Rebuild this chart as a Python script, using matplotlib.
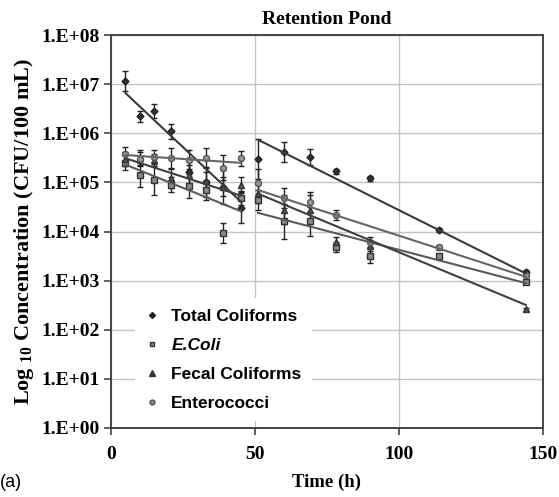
import numpy as np
import matplotlib
matplotlib.use("Agg")
import matplotlib.pyplot as plt
from matplotlib.lines import Line2D

plt.rcParams["mathtext.fontset"] = "custom"
plt.rcParams["mathtext.rm"] = "Liberation Serif:bold"
plt.rcParams["mathtext.bf"] = "Liberation Serif:bold"

# ---- data ----
t1 = [5, 10, 15, 21, 27, 33, 39, 45]
t2 = [51, 60, 69, 78, 90, 114, 144]

tc1 = [1.15e7, 2.2e6, 2.8e6, 1.1e6, 1.6e5, 1.0e5, 8.0e4, 3.0e4]
tc2 = [3.0e5, 4.2e5, 3.3e5, 1.7e5, 1.2e5, 1.07e4, 1.5e3]
tc_err1 = [0.2, 0.12, 0.14, 0.15, 0.25, 0.3, 0.35, 0.3]
tc_err2 = [0.4, 0.2, 0.17, 0.05, 0.06, 0.04, 0.05]

ec1 = [2.5e5, 1.4e5, 1.1e5, 8.9e4, 8.5e4, 7.0e4, 9.3e3, 4.8e4]
ec2 = [4.4e4, 1.6e4, 1.6e4, 4.9e3, 3.2e3, 3.1e3, 9.5e2]
ec_err1 = [0.15, 0.25, 0.3, 0.15, 0.25, 0.2, 0.2, 0.15]
ec_err2 = [0.2, 0.35, 0.3, 0.1, 0.15, 0.05, 0.05]

fc1 = [3.0e5, 3.2e5, 2.9e5, 1.2e5, 1.4e5, 1.05e5, 8.2e4, 8.9e4]
fc2 = [6.0e4, 2.8e4, 2.8e4, 6.2e3, 5.0e3, np.nan, 2.6e2]
fc_err1 = [0.15, 0.15, 0.12, 0.2, 0.2, 0.2, 0.2, 0.15]
fc_err2 = [0.2, 0.3, 0.3, 0.1, 0.1, 0.0, 0.03]

en1 = [3.8e5, 3.0e5, 3.3e5, 3.1e5, 2.9e5, 3.2e5, 2.0e5, 3.1e5]
en2 = [9.6e4, 4.8e4, 4.0e4, 2.2e4, 6.0e3, 4.8e3, 1.3e3]
en_err1 = [0.15, 0.15, 0.15, 0.2, 0.2, 0.2, 0.25, 0.15]
en_err2 = [0.3, 0.2, 0.2, 0.1, 0.1, 0.05, 0.04]

# fitted (regression) line end values for each phase
fit_t1 = [5, 45]
fit_t2 = [51, 144]
tc_fit1 = [6.6e6, 4.1e4]
tc_fit2 = [7.4e5, 1.4e3]
ec_fit1 = [2.3e5, 2.6e4]
ec_fit2 = [2.4e4, 8.9e2]
fc_fit1 = [3.1e5, 5.4e4]
fc_fit2 = [5.9e4, 3.2e2]
en_fit1 = [3.6e5, 2.5e5]
en_fit2 = [7.0e4, 1.2e3]

labels = ["Total Coliforms", "E.Coli", "Fecal Coliforms", "Enterococci"]
yticks = [1e0, 1e1, 1e2, 1e3, 1e4, 1e5, 1e6, 1e7, 1e8]
ytick_labels = ["1.E+00", "1.E+01", "1.E+02", "1.E+03", "1.E+04",
                "1.E+05", "1.E+06", "1.E+07", "1.E+08"]
xticks = [0, 50, 100, 150]

# ---- styling ----
serif = ["Liberation Serif", "DejaVu Serif"]
sans = ["Liberation Sans", "DejaVu Sans"]

fig = plt.figure(figsize=(5.59, 4.97), dpi=100)
ax = fig.add_axes([111/559, 1-428/497, (543-111)/559, (428-35)/497])

ax.set_yscale("log")
ax.set_xlim(0, 150)
ax.set_ylim(1e0, 1e8)
ax.grid(True, which="major", color="#c4c4c4", lw=1.0)
ax.set_axisbelow(True)
ax.minorticks_off()

series = [
    (tc1, tc2, tc_err1, tc_err2, tc_fit1, tc_fit2,
     dict(marker="D", ms=3.5, mfc="#333333", mec="#222222"), "#3a3a3a"),
    (ec1, ec2, ec_err1, ec_err2, ec_fit1, ec_fit2,
     dict(marker="s", ms=4.2, mfc="#8a8a8a", mec="#333333"), "#5a5a5a"),
    (fc1, fc2, fc_err1, fc_err2, fc_fit1, fc_fit2,
     dict(marker="^", ms=4.8, mfc="#555555", mec="#333333"), "#3f3f3f"),
    (en1, en2, en_err1, en_err2, en_fit1, en_fit2,
     dict(marker="o", ms=4.3, mfc="#999999", mec="#555555"), "#666666"),
]

for d1, d2, e1, e2, f1, f2, mk, lc in series:
    for tt, dd, ee in ((t1, d1, e1), (t2, d2, e2)):
        dd = np.array(dd, dtype=float)
        ee = np.array(ee, dtype=float)
        lo = dd - dd / 10**ee
        hi = dd * 10**ee - dd
        ax.errorbar(tt, dd, yerr=[lo, hi], fmt="none", ecolor="#222222",
                    elinewidth=1.0, capsize=2.5, capthick=1.0, zorder=3)
        ax.plot(tt, dd, ls="none", zorder=4, **mk)
    ax.plot(fit_t1, f1, color=lc, lw=1.5, zorder=5)
    ax.plot(fit_t2, f2, color=lc, lw=1.5, zorder=5)

ax.set_yticks(yticks)
ax.set_yticklabels(ytick_labels)
ax.set_xticks(xticks)
ax.set_xticklabels([str(x) for x in xticks])
for lab in ax.get_yticklabels() + ax.get_xticklabels():
    lab.set_fontfamily(serif)
    lab.set_fontweight("bold")
    lab.set_fontsize(14)
ax.tick_params(axis="both", direction="out", length=5, width=1.2, color="#444444")
ax.tick_params(axis="y", pad=3)
ax.tick_params(axis="x", pad=8)

for sp in ax.spines.values():
    sp.set_color("#444444")
    sp.set_linewidth(1.4)

ax.set_xlabel("Time (h)", fontfamily=serif, fontweight="bold", fontsize=13.5, labelpad=8)
ax.set_ylabel(r"Log$_{\ \mathbf{10}}$ Concentration (CFU/100 mL)", fontfamily=serif,
              fontweight="bold", fontsize=16, labelpad=4)
ax.set_title("Retention Pond", fontfamily=serif, fontweight="bold", fontsize=14, pad=8)

handles = [
    Line2D([], [], ls="none", marker="D", ms=3, mfc="#222222", mec="#222222"),
    Line2D([], [], ls="none", marker="s", ms=3.5, mfc="#8a8a8a", mec="#333333"),
    Line2D([], [], ls="none", marker="^", ms=4, mfc="#333333", mec="#333333"),
    Line2D([], [], ls="none", marker="o", ms=3.5, mfc="#888888", mec="#555555"),
]
leg = ax.legend(handles, labels, loc="lower left", bbox_to_anchor=(0.035, -0.005),
                frameon=True, framealpha=1, facecolor="white", edgecolor="none",
                fancybox=False, handlelength=0.8, handletextpad=0.7,
                labelspacing=0.8, borderpad=0.6,
                prop=dict(family=sans, weight="bold", size=12.5))
leg.get_texts()[1].set_fontstyle("italic")
leg.set_zorder(6)

fig.text(0.0, 0.012, "(a)", fontfamily=sans, fontsize=13, ha="left", va="bottom")

fig.savefig("out.png", dpi=100)
